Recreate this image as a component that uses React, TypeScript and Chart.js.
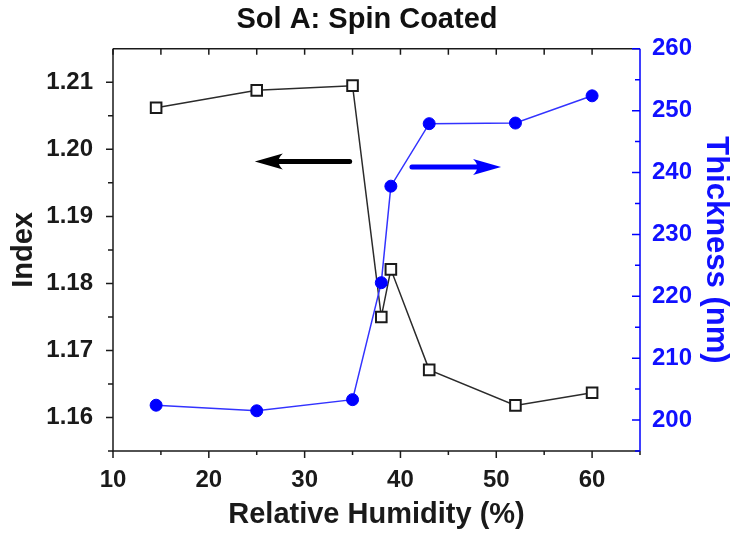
import React, { useEffect, useRef } from "react";
import { Chart, registerables } from "chart.js";

Chart.register(...registerables);

// ---- data ----
const humidity = [14.5, 25, 35, 38, 39, 43, 52, 60];
const indexValues = [1.2062, 1.2088, 1.2095, 1.175, 1.1821, 1.1671, 1.1618, 1.1637];
const thicknessValues = [202.4, 201.5, 203.3, 222.2, 237.8, 247.9, 248.0, 252.4];

const xTicks = [10, 20, 30, 40, 50, 60];
const xMinorTicks = [15, 25, 35, 45, 55, 65];
const indexTicks = [1.16, 1.17, 1.18, 1.19, 1.2, 1.21];
const indexMinorTicks = [1.155, 1.165, 1.175, 1.185, 1.195, 1.205];
const thicknessTicks = [200, 210, 220, 230, 240, 250, 260];
const thicknessMinorTicks = [195, 205, 215, 225, 235, 245, 255];

// arrows (data coordinates): [fromX, toX], y
const indexArrowX = [34.7, 24.8];
const indexArrowY = 1.1982;
const thicknessArrowX = [41.2, 50.5];
const thicknessArrowY = 240.9;

const BLACK = "#1a1a1a";
const BLUE = "#0000ff";
const FONT = "'Liberation Sans', Arial, sans-serif";

function drawArrow(ctx: CanvasRenderingContext2D, x0: number, x1: number, y: number, color: string) {
  const dir = Math.sign(x1 - x0);
  const headLen = 28;
  const headHalf = 8;
  ctx.save();
  ctx.strokeStyle = color;
  ctx.fillStyle = color;
  ctx.lineWidth = 5;
  ctx.lineCap = "round";
  ctx.beginPath();
  ctx.moveTo(x0, y);
  ctx.lineTo(x1 - dir * headLen * 0.7, y);
  ctx.stroke();
  ctx.beginPath();
  ctx.moveTo(x1, y);
  ctx.lineTo(x1 - dir * headLen, y - headHalf);
  ctx.quadraticCurveTo(x1 - dir * headLen * 0.7, y, x1 - dir * headLen, y + headHalf);
  ctx.closePath();
  ctx.fill();
  ctx.restore();
}

const framePlugin = {
  id: "frame",
  beforeDatasetsDraw(chart: any) {
    const { ctx, chartArea } = chart;
    const { left, right, top, bottom } = chartArea;
    const xs = chart.scales.x;
    const yl = chart.scales.y;
    const yr = chart.scales.y2;
    ctx.save();
    ctx.lineWidth = 1.5;
    ctx.strokeStyle = BLACK;
    ctx.beginPath();
    ctx.moveTo(left, top);
    ctx.lineTo(left, bottom);
    ctx.lineTo(right, bottom);
    ctx.moveTo(left, top);
    ctx.lineTo(right, top);
    ctx.stroke();
    ctx.beginPath();
    for (const v of xTicks) {
      const p = xs.getPixelForValue(v);
      ctx.moveTo(p, bottom);
      ctx.lineTo(p, bottom + 7);
      ctx.moveTo(p, top);
      ctx.lineTo(p, top + 6);
    }
    for (const v of xMinorTicks) {
      const p = xs.getPixelForValue(v);
      ctx.moveTo(p, bottom);
      ctx.lineTo(p, bottom + 4);
      if (v < 65) {
        ctx.moveTo(p, top);
        ctx.lineTo(p, top + 6);
      }
    }
    for (const v of indexTicks) {
      const p = yl.getPixelForValue(v);
      ctx.moveTo(left, p);
      ctx.lineTo(left - 7, p);
    }
    for (const v of indexMinorTicks) {
      const p = yl.getPixelForValue(v);
      ctx.moveTo(left, p);
      ctx.lineTo(left - 5, p);
    }
    ctx.stroke();
    ctx.strokeStyle = BLUE;
    ctx.beginPath();
    ctx.moveTo(right, top);
    ctx.lineTo(right, bottom);
    for (const v of thicknessTicks) {
      const p = yr.getPixelForValue(v);
      ctx.moveTo(right, p);
      ctx.lineTo(right - 8, p);
    }
    for (const v of thicknessMinorTicks) {
      const p = yr.getPixelForValue(v);
      ctx.moveTo(right, p);
      ctx.lineTo(right - 5, p);
    }
    ctx.stroke();
    ctx.restore();

    drawArrow(
      ctx,
      xs.getPixelForValue(indexArrowX[0]),
      xs.getPixelForValue(indexArrowX[1]),
      yl.getPixelForValue(indexArrowY),
      "#000000"
    );
    drawArrow(
      ctx,
      xs.getPixelForValue(thicknessArrowX[0]),
      xs.getPixelForValue(thicknessArrowX[1]),
      yr.getPixelForValue(thicknessArrowY),
      BLUE
    );
  },
};

export default function App() {
  const canvasRef = useRef<HTMLCanvasElement | null>(null);

  useEffect(() => {
    const canvas = canvasRef.current;
    if (!canvas) return;
    const chart = new Chart(canvas, {
      type: "line",
      data: {
        datasets: [
          {
            label: "Index",
            data: humidity.map((x, i) => ({ x, y: indexValues[i] })),
            yAxisID: "y",
            borderColor: "#2b2b2b",
            borderWidth: 1.5,
            pointStyle: "rect",
            pointRadius: 7.5,
            pointBorderWidth: 2,
            pointBorderColor: "#1a1a1a",
            pointBackgroundColor: "#ffffff",
            tension: 0,
            order: 2,
          },
          {
            label: "Thickness",
            data: humidity.map((x, i) => ({ x, y: thicknessValues[i] })),
            yAxisID: "y2",
            borderColor: "#3333ff",
            borderWidth: 1.5,
            pointStyle: "circle",
            pointRadius: 6,
            pointBorderWidth: 1,
            pointBorderColor: BLUE,
            pointBackgroundColor: BLUE,
            tension: 0,
            order: 1,
          },
        ],
      },
      options: {
        animation: false,
        responsive: false,
        events: [],
        layout: { padding: 0 },
        plugins: {
          legend: { display: false },
          tooltip: { enabled: false },
          title: {
            display: true,
            text: "Sol A: Spin Coated",
            color: "#111111",
            font: { family: FONT, size: 29, weight: "bold", lineHeight: 1.2 },
            padding: { top: 3, bottom: 11 },
          },
        },
        scales: {
          x: {
            type: "linear",
            min: 10,
            max: 65,
            afterBuildTicks: (s: any) => {
              s.ticks = xTicks.map((v) => ({ value: v }));
            },
            afterFit: (s: any) => {
              s.height = 82;
            },
            grid: { display: false },
            border: { display: false },
            ticks: {
              color: "#1a1a1a",
              padding: 7,
              font: { family: FONT, size: 24, weight: "bold" },
              maxRotation: 0,
              callback: (v: any) => String(v),
            },
            title: {
              display: true,
              text: "Relative Humidity (%)",
              color: "#1a1a1a",
              font: { family: FONT, size: 29, weight: "bold", lineHeight: 1.2 },
              padding: { top: 0, bottom: 1 },
            },
          },
          y: {
            type: "linear",
            position: "left",
            min: 1.155,
            max: 1.215,
            afterBuildTicks: (s: any) => {
              s.ticks = indexTicks.map((v) => ({ value: v }));
            },
            afterFit: (s: any) => {
              s.width = 113;
            },
            grid: { display: false },
            border: { display: false },
            ticks: {
              color: "#1a1a1a",
              padding: 12,
              font: { family: FONT, size: 24, weight: "bold" },
              callback: (v: any) => Number(v).toFixed(2),
            },
            title: {
              display: true,
              text: "Index",
              color: "#1a1a1a",
              font: { family: FONT, size: 29, weight: "bold", lineHeight: 1.2 },
              padding: { top: 7, bottom: 0 },
            },
          },
          y2: {
            type: "linear",
            position: "right",
            min: 195,
            max: 260,
            afterBuildTicks: (s: any) => {
              s.ticks = thicknessTicks.map((v) => ({ value: v }));
            },
            afterFit: (s: any) => {
              s.width = 94;
            },
            grid: { display: false },
            border: { display: false },
            ticks: {
              color: "#1010ff",
              padding: 4,
              font: { family: FONT, size: 24, weight: "bold" },
              callback: (v: any) => String(v),
            },
            title: {
              display: true,
              text: "Thickness (nm)",
              color: "#1010ff",
              font: { family: FONT, size: 31, weight: "bold", lineHeight: 1.2 },
              padding: { top: 0, bottom: 0 },
            },
          },
        },
      },
      plugins: [framePlugin],
    });
    return () => chart.destroy();
  }, []);

  return (
    <div
      style={{
        position: "fixed",
        left: 0,
        top: 0,
        width: 734,
        height: 533,
        background: "#ffffff",
      }}
    >
      <canvas ref={canvasRef} width={734} height={533} style={{ display: "block" }} />
    </div>
  );
}
